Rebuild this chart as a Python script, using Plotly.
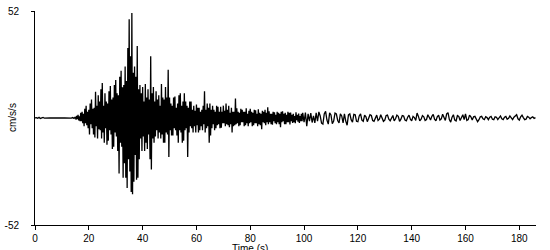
import numpy as np
import plotly.graph_objects as go

# ---- data (cm/s/s) ----
# segment start times (s) and sample steps (s)
seg_start = [0.0, 15.0, 100.0]
seg_dt = [0.5, 0.25, 0.5]

accel_pre = [0.0, 0.2, -0.1, 0.3, -0.2, 0.1, 0.3, -0.1, 0.0, 0.1,
             -0.1, 0.1, 0.0, -0.1, 0.1, 0.0, 0.1, -0.1, 0.0, 0.1,
             -0.1, 0.0, 0.1, 0.0, -0.1, 0.1, 0.0, -0.1, 0.2, -0.2]

accel_strong = [
    0.5, -0.8, 1.0, -0.6,   1.5, -1.2, 0.8, -1.5,   2.5, -1.5, 3.0, -2.5,
    2.0, -4.0, 4.5, -2.5,   6.0, -3.5, 3.0, -5.0,   4.0, -8.0, 7.0, -3.0,
    9.0, -5.0, 4.5, -8.0,   5.0, -9.5, 12.8, -4.0,  6.0, -10.0, 11.0, -5.5,
    8.0, -6.0, 14.0, -10.0, 17.0, -7.0, 6.0, -12.0, 12.0, -5.0, 8.0, -13.0,
    7.0, -11.0, 13.0, -6.0, 15.5, -8.0, 9.0, -15.0, 10.0, -14.0, 16.0, -7.0,
    18.5, -9.0, 12.0, -16.0, 11.0, -27.0, 20.0, -12.0, 23.0, -14.0, 15.0, -29.0,
    16.0, -22.0, 25.0, -29.0, 18.0, -34.0, 34.0, -20.0, 48.0, -26.0, 30.0, -36.0,
    51.0, -37.0, 22.0, -31.0, 25.0, -18.0, 20.0, -30.0, 35.0, -29.0, 14.0, -20.0,
    16.0, -10.0, 12.0, -16.0, 15.0, -9.0, 8.0, -16.0, 16.5, -12.0, 10.0, -15.0,
    14.0, -8.0, 9.0, -20.0, 30.0, -25.0, 12.0, -10.0, 15.0, -12.0, 8.0, -9.0,
    13.0, -6.0, 9.0, -10.0, 11.0, -7.0, 6.0, -10.0, 16.5, -8.0, 10.0, -12.0,
    9.0, -12.0, 15.0, -7.0, 10.0, -8.0, 23.5, -19.0, 10.0, -6.0, 7.0, -8.5,
    6.0, -8.5, 10.0, -5.0, 10.5, -6.0, 5.0, -8.5, 7.0, -12.0, 11.0, -6.0,
    12.0, -7.0, 6.0, -12.0, 8.0, -11.0, 12.0, -6.0, 8.0, -5.0, 6.0, -19.0,
    5.0, -7.0, 8.0, -4.0,   8.0, -5.0, 4.0, -7.0,   6.0, -4.0, 3.5, -7.0,
    6.5, -3.5, 5.0, -7.0,   5.0, -6.0, 3.0, -4.0,   4.0, -6.0, 6.0, -3.0,
    13.0, -7.0, 4.0, -5.0,  7.0, -4.0, 5.0, -12.0,  7.0, -8.5, 4.0, -5.0,
    6.0, -3.0, 4.0, -6.0,   3.0, -5.0, 6.0, -3.5,   5.5, -3.0, 3.0, -5.0,
    5.5, -4.7, 3.0, -2.5,   6.0, -2.5, 3.5, -4.0,   7.0, -3.0, 4.0, -3.5,
    6.0, -4.5, 2.5, -3.0,   5.0, -7.0, 3.0, -4.0,   3.0, -3.5, 9.5, -3.0,
    4.7, -2.5, 3.0, -4.0,   2.5, -3.5, 4.5, -2.0,   4.0, -2.0, 3.0, -4.0,
    3.0, -3.5, 4.7, -2.5,   2.0, -4.0, 3.5, -2.5,   4.5, -2.0, 3.0, -4.0,
    2.5, -3.5, 4.0, -2.5,   3.8, -2.5, 2.0, -4.0,   4.2, -3.0, 2.5, -3.5,
    2.0, -5.5, 3.5, -2.0,   3.0, -2.5, 4.0, -3.5,   2.5, -2.0, 5.2, -3.0,
    3.3, -2.0, 2.0, -3.0,   2.0, -3.3, 3.0, -1.5,   2.8, -2.5, 1.5, -3.0,
    3.0, -2.0, 2.5, -3.0,   2.0, -4.5, 3.0, -2.0,   3.3, -1.5, 2.0, -3.0,
    2.5, -3.0, 1.5, -2.0,   3.0, -2.0, 2.5, -3.2,   2.7, -1.5, 1.5, -2.4,
    2.0, -2.0, 1.0, -2.5,   2.8, -1.0, 1.5, -1.8,   2.2, -2.4, 1.0, -1.5,
    2.0, -1.5, 2.5, -2.0,
]

accel_coda = [
    -2.0, 2.6, -4.0, 2.0, -1.5, 2.4, -2.2, 1.0, -2.4, 2.5,
    -1.5, 3.0, 1.0, -2.5, -3.0, 2.0, 3.2, -1.0, -3.0, 2.5,
    1.5, -2.8, -1.5, 2.4, 2.0, -1.2, -2.4, 2.0, 1.0, -2.4,
    2.0, -1.5, -3.5, 1.5, 2.0, -0.8, -2.0, 1.8, 1.6, -1.6,
    -1.8, 1.0, 2.0, -1.0, -1.6, 1.4, 0.6, -1.8, -0.4, 1.6,
    1.2, -1.2, -1.6, 0.4, 1.4, -1.2, -0.6, 1.6, 0.2, -1.6,
    -1.0, 1.2, 1.4, -0.6, -1.4, 0.2, 1.2, -1.4, -0.4, 1.4,
    0.8, -1.6, -0.6, 1.2, 1.0, -1.0, -1.4, 0.4, 1.4, -0.6,
    -1.4, 0.8, 0.2, -1.2, 2.4, 0.8, -1.4, -0.6, 1.2, 0.6,
    -1.2, -0.8, 1.6, 0.4, -1.0, 0.8, 1.8, -0.6, -1.4, 0.6,
    1.4, -1.0, -0.4, 1.8, 0.6, -1.2, 2.0, 2.6, -0.8, -2.0,
    0.4, 1.6, -1.0, -1.4, 1.2, 0.8, -1.2, 0.2, 1.6, -0.8,
    2.0, -1.2, -0.8, 1.4, 0.6, -1.0, 0.6, 0.8, -0.6, -1.8,
    -0.8, 0.6, 0.8, -0.4, -0.8, 0.6, 0.2, -0.8, 0.4, 0.8,
    -0.6, -0.8, 0.6, 0.4, -0.8, 0.2, 1.0, -0.4, -0.8, 0.4,
    0.8, -0.6, -0.2, 1.0, 0.2, -0.8, 0.4, 1.2, 1.6, -0.4,
    -1.0, 0.6, 1.4, 0.2, -0.8, -0.6, 0.8, 0.4, -0.4, 0.2,
    0.6, -0.2, 0.2,
]

x_ticks = [0, 20, 40, 60, 80, 100, 120, 140, 160, 180]
y_ticks = [-52, 52]
y_tick_labels = ["-52", "52"]
x_title = "Time (s)"
y_title = "cm/s/s"

segments = [accel_pre, accel_strong, accel_coda]
time_s = np.concatenate([s0 + np.arange(len(seg)) * d
                         for s0, d, seg in zip(seg_start, seg_dt, segments)])
accel = np.concatenate([np.array(seg) for seg in segments])

FONT = dict(family="Liberation Sans, Arial, sans-serif", size=10, color="black")

fig = go.Figure(go.Scatter(x=time_s, y=accel, mode="lines",
                           line=dict(color="black", width=1.3),
                           hoverinfo="skip"))

fig.update_layout(
    width=550, height=250,
    margin=dict(l=35, r=14, t=5, b=25, pad=0),
    paper_bgcolor="white", plot_bgcolor="white",
    showlegend=False, font=FONT,
    xaxis=dict(range=[0, 186.2], tickvals=x_ticks, ticks="outside", ticklen=4,
               tickcolor="black", showline=True, linecolor="black", linewidth=1,
               showgrid=False, zeroline=False, tickfont=FONT),
    yaxis=dict(range=[-52, 52], tickvals=y_ticks, ticktext=y_tick_labels,
               ticks="outside", ticklen=3, tickcolor="black",
               showline=True, linecolor="black", linewidth=1,
               showgrid=False, zeroline=False, tickfont=FONT,
               ticklabelstandoff=10, ticklabeloverflow="allow"),
    annotations=[
        dict(text=x_title, xref="x", yref="paper", x=80, y=0, yshift=-16,
             xanchor="center", yanchor="top", showarrow=False, font=FONT),
        dict(text=y_title, xref="paper", yref="y", x=0, y=0, xshift=-23,
             textangle=-90, xanchor="center", yanchor="middle",
             showarrow=False, font=FONT),
    ],
)

fig.write_html("out.html", config={"displayModeBar": False})
